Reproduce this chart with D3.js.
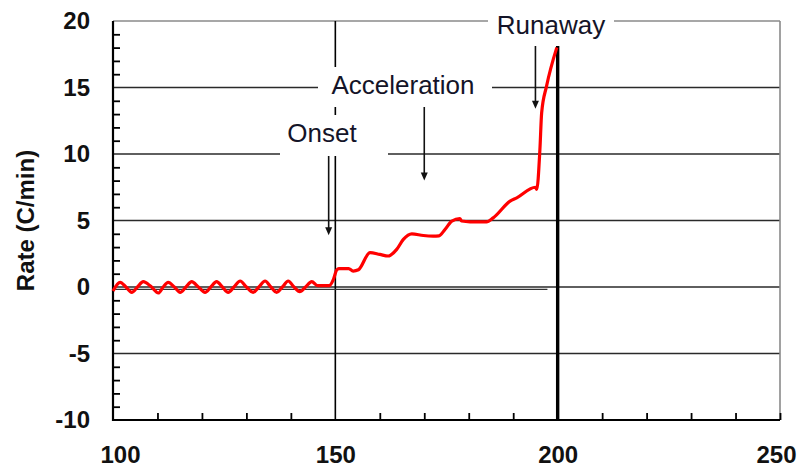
<!DOCTYPE html>
<html>
<head>
<meta charset="utf-8">
<script src="https://cdn.jsdelivr.net/npm/d3@7/dist/d3.min.js"></script>
<style>
  html, body { margin: 0; padding: 0; background: #fff; }
  svg { display: block; }
  text { font-family: "Liberation Sans", Arial, sans-serif; }
</style>
</head>
<body>
<svg id="chart" width="805" height="467"></svg>
<script>
// Temperature-rise rate trace (time axis vs. rate in C/min)
const timeMin = [100, 101.6, 102.9, 104.2, 105.5, 106.8, 108.5, 110.2, 111.3, 112.4,
  113.8, 115.1, 116.4, 117.7, 119.2, 120.7, 122, 123.3, 124.6, 125.9,
  127.2, 128.6, 130, 131.5, 132.8, 134.2, 135.5, 136.8, 138.1, 139.4,
  140.7, 142, 143.3, 144.7, 146, 147.3, 148.6, 149.6, 150.3, 150.8,
  153, 154, 155.2, 157.8, 160, 161.9, 163.8, 165.3, 167.2, 169.8,
  172, 173.3, 174.7, 176.2, 178, 178.4, 180.3, 184, 185.5, 189.3,
  190.8, 195, 195.3, 196, 196.4, 197.5, 199.8];
const rate = [-0.3, 0.35, 0.0, -0.4, 0.0, 0.4, 0.05, -0.45, 0.0, 0.35,
  0.0, -0.4, 0.0, 0.4, 0.0, -0.4, 0.0, 0.4, 0.0, -0.4,
  0.0, 0.45, 0.0, -0.4, 0.0, 0.45, 0.0, -0.4, 0.0, 0.45,
  0.0, -0.35, 0.0, 0.4, 0.1, 0.1, 0.1, 0.6, 1.28, 1.38,
  1.38, 1.2, 1.3, 2.58, 2.45, 2.33, 2.83, 3.58, 4.0, 3.87,
  3.83, 3.85, 4.34, 4.96, 5.14, 4.96, 4.9, 4.9, 5.2, 6.45,
  6.7, 7.5, 7.33, 10.3, 13.1, 15.1, 18.0];

// Reference baseline drawn just under zero
const baselineTime = [100, 197.7];
const baselineRate = [-0.18, -0.18];

const xTicks = [100, 150, 200, 250];
const xMinorTicks = [110, 120, 130, 140, 160, 170, 180, 190, 210, 220, 230, 240, 250];
const yTicks = [-10, -5, 0, 5, 10, 15, 20];
const yMinorTicks = d3.range(-10, 21, 1).filter(v => v % 5 !== 0);
const yGrid = [-5, 0, 5, 10, 15];
const xMarkers = [150, 200];

// Phase annotations: label, arrow x-position (time) and arrow tip (rate)
const phaseLabels = ["Onset", "Acceleration", "Runaway"];
const phaseArrowTime = [148.5, 170, 195];
const phaseArrowRate = [3.9, 8.0, 13.4];

const svg = d3.select("#chart");
const margin = { left: 113, right: 25, top: 21, bottom: 47 };
const W = 805, H = 467;

const x = d3.scaleLinear().domain([100, 250]).range([margin.left, W - margin.right]);
const y = d3.scaleLinear().domain([-10, 20]).range([H - margin.bottom, margin.top]);

const x0 = x.range()[0], x1 = x.range()[1];
const y0 = y.range()[0], y1 = y.range()[1];

// plain hyphen for negative labels
const fmt = d => String(d);

// horizontal grid
svg.append("g").selectAll("line").data(yGrid).join("line")
  .attr("x1", x0).attr("x2", x1)
  .attr("y1", d => y(d)).attr("y2", d => y(d))
  .attr("stroke", "#2a2a2a").attr("stroke-width", 1.6);

// top and right frame
svg.append("line").attr("x1", x0).attr("x2", x1).attr("y1", y1).attr("y2", y1)
  .attr("stroke", "#8a8a8a").attr("stroke-width", 1.6);
svg.append("line").attr("x1", x1).attr("x2", x1).attr("y1", y1).attr("y2", y0)
  .attr("stroke", "#8a8a8a").attr("stroke-width", 1.6);

// vertical markers at 150 (thin) and 200 (thick)
svg.append("g").selectAll("line").data(xMarkers).join("line")
  .attr("x1", d => x(d)).attr("x2", d => x(d))
  .attr("y1", y1).attr("y2", y0)
  .attr("stroke", "#000")
  .attr("stroke-width", (d, i) => i === 0 ? 1.6 : 3.4);

// baseline near zero
svg.append("line")
  .attr("x1", x(baselineTime[0])).attr("x2", x(baselineTime[1]))
  .attr("y1", y(baselineRate[0])).attr("y2", y(baselineRate[1]))
  .attr("stroke", "#333").attr("stroke-width", 1.4);

// axes: minor ticks (inside) and labels
const yMinor = svg.append("g").attr("transform", `translate(${x0},0)`)
  .call(d3.axisLeft(y).tickValues(yMinorTicks).tickSize(-7).tickFormat(""));
const xMinor = svg.append("g").attr("transform", `translate(0,${y0})`)
  .call(d3.axisBottom(x).tickValues(xMinorTicks).tickSize(-7).tickFormat(""));
[yMinor, xMinor].forEach(g => {
  g.select(".domain").remove();
  g.selectAll(".tick line").attr("stroke", "#000").attr("stroke-width", 1.8);
});

const yAxis = svg.append("g").attr("transform", `translate(${x0},0)`)
  .call(d3.axisLeft(y).tickValues(yTicks).tickSize(0).tickPadding(23).tickFormat(fmt));
const xAxis = svg.append("g").attr("transform", `translate(0,${y0})`)
  .call(d3.axisBottom(x).tickValues(xTicks).tickSize(0).tickPadding(26).tickFormat(fmt));
[yAxis, xAxis].forEach(g => {
  g.select(".domain").remove();
  g.selectAll(".tick text")
    .attr("fill", "#111")
    .style("font-size", "24px")
    .style("font-weight", "bold")
    .style("font-family", '"Liberation Sans", Arial, sans-serif');
});
// keep end labels inside the canvas
xAxis.selectAll(".tick text").filter(d => d === 100).attr("dx", "7");
xAxis.selectAll(".tick text").filter(d => d === 250).attr("dx", "-4");

// left and bottom axis lines
svg.append("line").attr("x1", x0).attr("x2", x0).attr("y1", y1).attr("y2", y0 + 1)
  .attr("stroke", "#000").attr("stroke-width", 2.2);
svg.append("line").attr("x1", x0 - 1).attr("x2", x1).attr("y1", y0).attr("y2", y0)
  .attr("stroke", "#000").attr("stroke-width", 2.2);

// y axis title
svg.append("text")
  .attr("transform", `translate(34,${(y0 + y1) / 2}) rotate(-90)`)
  .attr("text-anchor", "middle")
  .attr("fill", "#111")
  .style("font-size", "24px")
  .style("font-weight", "bold")
  .text("Rate (C/min)");

// rate trace
const line = d3.line()
  .x((d, i) => x(timeMin[i]))
  .y(d => y(d))
  .curve(d3.curveMonotoneX);
svg.append("path")
  .datum(rate)
  .attr("d", line)
  .attr("fill", "none")
  .attr("stroke", "#ff0000")
  .attr("stroke-width", 3.2)
  .attr("stroke-linejoin", "round");

// phase labels with white backing boxes
const labelLayout = [
  { cx: 322, base: 142, box: [280, 115, 108, 41] },
  { cx: 403, base: 94, box: [318, 67, 174, 40] },
  { cx: 551, base: 34, box: [488, 2, 126, 44] }
];
const ann = svg.append("g");
phaseLabels.forEach((label, i) => {
  const L = labelLayout[i];
  ann.append("rect")
    .attr("x", L.box[0]).attr("y", L.box[1])
    .attr("width", L.box[2]).attr("height", L.box[3])
    .attr("fill", "#fff");
  ann.append("text")
    .attr("x", L.cx).attr("y", L.base)
    .attr("text-anchor", "middle")
    .attr("fill", "#141428")
    .style("font-size", "26px")
    .text(label);
  // arrow from the bottom of the box down to the trace
  const ax = x(phaseArrowTime[i]);
  const tipY = y(phaseArrowRate[i]);
  const startY = L.box[1] + L.box[3];
  ann.append("line")
    .attr("x1", ax).attr("x2", ax)
    .attr("y1", startY).attr("y2", tipY - 6)
    .attr("stroke", "#111").attr("stroke-width", 1.6);
  ann.append("path")
    .attr("d", `M${ax - 3.5},${tipY - 8} L${ax + 3.5},${tipY - 8} L${ax},${tipY} Z`)
    .attr("fill", "#111");
});
</script>
</body>
</html>
